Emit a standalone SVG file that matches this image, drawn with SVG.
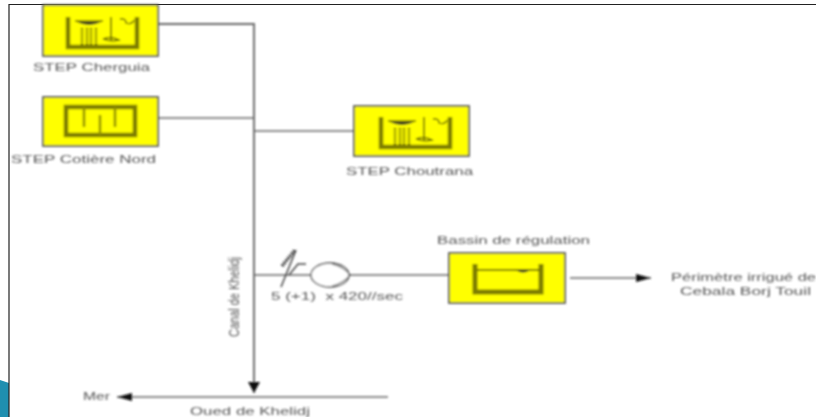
<svg xmlns="http://www.w3.org/2000/svg" width="816" height="417" viewBox="0 0 816 417">
<defs>
<filter id="soft" filterUnits="userSpaceOnUse" x="0" y="0" width="816" height="417"><feGaussianBlur stdDeviation="0.8"/></filter>
<marker id="arrow" markerUnits="userSpaceOnUse" markerWidth="17" markerHeight="12" refX="15" refY="6" orient="auto"><path d="M0,2 L15,6 L0,10 Z" fill="#111"/></marker>
<marker id="arrow-down" markerUnits="userSpaceOnUse" markerWidth="14" markerHeight="14" refX="11" refY="7" orient="auto"><path d="M0,1 L11,7 L0,13 Z" fill="#111"/></marker>
<g id="icon-step1">
<path d="M1,0 V30 H70 V0" class="ic-thick"/>
<path d="M8,4 H36" class="ic-thin"/>
<path d="M10,5 Q22,11 34,5 Z" fill="#222"/>
<path d="M15,11 V28 M20,11 V28 M24,11 V28 M29,11 V28" class="ic-dash"/>
<path d="M44,0 V23 M36,22 Q44,19 52,23 Q44,25 36,22" class="ic-thin"/>
<path d="M53,2 Q59,1 59,6 Q65,8 67,3" class="ic-thin"/>
</g>
</defs>
<style>
.ln{fill:none;stroke:#666;stroke-width:1.5}
.bx{fill:#ffff00;stroke:#555;stroke-width:1.8}
.ic-thick{fill:none;stroke:#7d7d00;stroke-width:4.5}
.ic-thin{fill:none;stroke:#4a4a00;stroke-width:1.3}
.ic-dash{fill:none;stroke:#4a4a00;stroke-width:2.4;stroke-dasharray:1.8 1.2}
text{font-family:"Liberation Sans",Arial,sans-serif;font-size:10.5px;fill:#555}
</style>
<rect width="816" height="417" fill="#fff"/>
<path d="M0,380 L9,383 V417 H0 Z" fill="#1f8fb0"/>
<path d="M816,4.500 H9 V417" fill="none" stroke="#222" stroke-width="1.2"/>
<g filter="url(#soft)">
<g id="connectors">
<path class="ln" style="stroke-width:1.900" d="M158,24 H254 V393" marker-end="url(#arrow-down)"/>
<path class="ln" d="M158,118 H254"/>
<path class="ln" d="M254,131 H354"/>
<path class="ln" d="M254,275 H449"/>
<path class="ln" d="M570,278 H651" marker-end="url(#arrow)"/>
<path class="ln" d="M388,397 H117" marker-end="url(#arrow)"/>
</g>
<g id="step-cherguia">
<rect class="bx" x="43" y="5" width="115" height="51"/>
<use href="#icon-step1" x="67" y="17"/>
<text x="33" y="71" textLength="117" lengthAdjust="spacingAndGlyphs">STEP Cherguia</text>
</g>
<g id="step-cotiere-nord">
<rect class="bx" x="43" y="97" width="115" height="49"/>
<path class="ic-thick" d="M66,107 H135 V135 H66 Z"/>
<path class="ic-thin" style="stroke:#8f8f00;stroke-width:2.500" d="M84,107 V127 M100,135 V115 M115,107 V127"/>
<text x="11" y="163" textLength="145" lengthAdjust="spacingAndGlyphs">STEP Cotière Nord</text>
</g>
<g id="step-choutrana">
<rect class="bx" x="354" y="106" width="115" height="50"/>
<use href="#icon-step1" x="380" y="117"/>
<text x="346" y="175" textLength="127" lengthAdjust="spacingAndGlyphs">STEP Choutrana</text>
</g>
<g id="pump">
<ellipse cx="330" cy="275" rx="19" ry="12" fill="#fff" stroke="#444" stroke-width="1.300"/>
<path class="ln" style="stroke:#555;stroke-width:1.100" d="M332,264 Q344,267 350,275 Q344,283 332,286"/>
<path class="ln" style="stroke:#444" d="M281,287 L296,250 M289,275 L298,264 H306"/>
<path d="M282,266 L295,250" fill="none" stroke="#333" stroke-width="3.200" stroke-dasharray="2 1"/>
<text x="271" y="300" textLength="132" lengthAdjust="spacingAndGlyphs" xml:space="preserve">5 (+1)  x 420//sec</text>
</g>
<g id="bassin-regulation">
<rect class="bx" x="449" y="253" width="116" height="50"/>
<path class="ic-thick" style="stroke-width:5" d="M475,264 V292 H541 V264"/>
<path class="ic-thin" d="M477,270 H539"/>
<path d="M516,270 Q523,275 530,270 Z" fill="#222"/>
<text x="437" y="244" textLength="153" lengthAdjust="spacingAndGlyphs">Bassin de régulation</text>
</g>
<g id="perimetre">
<text x="671" y="281" textLength="145" lengthAdjust="spacingAndGlyphs">Périmètre irrigué de</text>
<text x="680" y="295" textLength="131" lengthAdjust="spacingAndGlyphs">Cebala Borj Touil</text>
</g>
<text x="239" y="337" transform="rotate(-90 239 337)" textLength="80" lengthAdjust="spacingAndGlyphs" style="font-size:15px">Canal de Khelidj</text>
<text x="83" y="400" textLength="27" lengthAdjust="spacingAndGlyphs">Mer</text>
<text x="190" y="415" textLength="120" lengthAdjust="spacingAndGlyphs">Oued de Khelidj</text>
</g>
</svg>
